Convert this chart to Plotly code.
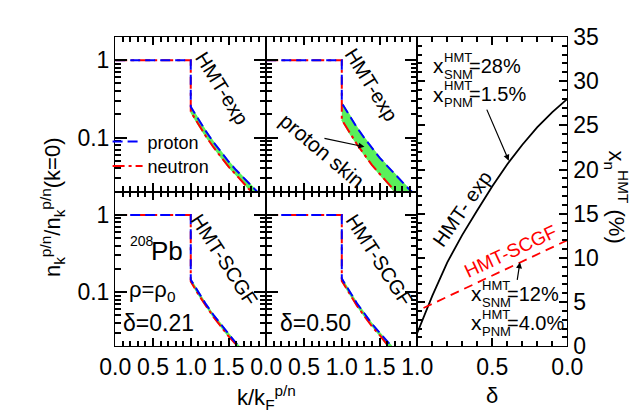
import plotly.graph_objects as go

W, H = 639, 415

# ---------------- data ----------------
k_flat = [0.0, 1.0]
n_flat = [1.0, 1.0]
k_tail = [1.0, 1.1, 1.2, 1.3, 1.4, 1.5, 1.6, 1.7, 1.8, 1.9, 2.0]

# HMT-exp, delta = 0.21
p_exp_a = [0.25, 0.171, 0.121, 0.0875, 0.065, 0.049, 0.038, 0.030, 0.024, 0.019, 0.0156]
n_exp_a = [0.215, 0.147, 0.104, 0.075, 0.056, 0.042, 0.033, 0.026, 0.020, 0.0165, 0.0134]
# HMT-exp, delta = 0.50
p_exp_b = [0.28, 0.191, 0.135, 0.098, 0.073, 0.055, 0.043, 0.034, 0.027, 0.021, 0.0175]
n_exp_b = [0.17, 0.116, 0.082, 0.060, 0.044, 0.034, 0.026, 0.020, 0.016, 0.013, 0.0106]
# HMT-SCGF, delta = 0.21
p_scgf_a = [0.145, 0.099, 0.070, 0.051, 0.038, 0.029, 0.022, 0.017, 0.014, 0.011, 0.009]
n_scgf_a = [0.138, 0.094, 0.067, 0.048, 0.036, 0.027, 0.021, 0.0165, 0.013, 0.0106, 0.0086]
# HMT-SCGF, delta = 0.50
p_scgf_b = [0.15, 0.102, 0.072, 0.053, 0.039, 0.030, 0.023, 0.018, 0.014, 0.0115, 0.0094]
n_scgf_b = [0.14, 0.096, 0.067, 0.049, 0.036, 0.028, 0.021, 0.017, 0.013, 0.011, 0.0088]

# right panel: x_n^HMT (%) vs delta
delta_exp = [0.0, 0.1, 0.2, 0.3, 0.4, 0.5, 0.6, 0.7, 0.8, 0.9, 1.0]
xn_exp = [28.0, 26.5, 24.8, 22.8, 20.6, 18.1, 15.4, 12.6, 9.5, 5.7, 1.5]
delta_scgf = [0.0, 1.0]
xn_scgf = [12.0, 4.0]

# ---------------- style ----------------
FONT = "Liberation Sans, Arial, sans-serif"
BLUE = "#0000FF"
RED = "#FF0000"
GREEN = "#5AF05A"
P_DASH = "10px,5px"
N_DASH = "12px,4px,3px,4px"

X0, X1, X2, X3 = 96 / W, 255 / W, 414 / W, 572 / W
YT, YM, YB = 1 - 17 / H, 1 - 182 / H, 1 - 347 / H

fig = go.Figure()

panels = [
    ("x", "y", p_exp_a, n_exp_a, True),
    ("x2", "y2", p_exp_b, n_exp_b, False),
    ("x3", "y3", p_scgf_a, n_scgf_a, False),
    ("x4", "y4", p_scgf_b, n_scgf_b, False),
]
for xa, ya, pv, nv, leg in panels:
    fig.add_trace(go.Scatter(
        x=k_tail + k_tail[::-1], y=pv + nv[::-1], fill="toself",
        fillcolor=GREEN, line=dict(color=GREEN, width=1.5),
        mode="lines", showlegend=False, xaxis=xa, yaxis=ya, hoverinfo="skip"))
    fig.add_trace(go.Scatter(
        x=k_flat + k_tail, y=n_flat + nv, mode="lines", name="neutron",
        line=dict(color=RED, width=2, dash=N_DASH),
        showlegend=leg, legend="legend2", xaxis=xa, yaxis=ya))
    fig.add_trace(go.Scatter(
        x=k_flat + k_tail, y=n_flat + pv, mode="lines", name="proton",
        line=dict(color=BLUE, width=2, dash=P_DASH),
        showlegend=leg, legend="legend", xaxis=xa, yaxis=ya))

fig.add_trace(go.Scatter(x=delta_exp, y=xn_exp, mode="lines",
                         line=dict(color="black", width=1.8),
                         showlegend=False, xaxis="x5", yaxis="y5"))
fig.add_trace(go.Scatter(x=delta_scgf, y=xn_scgf, mode="lines",
                         line=dict(color=RED, width=1.8, dash="9px,6px"),
                         showlegend=False, xaxis="x5", yaxis="y5"))

tickfont = dict(family=FONT, size=23, color="black")


def base(dom, anchor, **kw):
    d = dict(domain=dom, anchor=anchor, showline=True, linecolor="black",
             linewidth=1.4, mirror="allticks", ticks="inside", tickwidth=1.8,
             tickcolor="black", showgrid=False, zeroline=False,
             tickfont=tickfont)
    d.update(kw)
    return d


def minor(**kw):
    d = dict(ticks="inside", ticklen=5, tickwidth=1.5, tickcolor="black",
             showgrid=False)
    d.update(kw)
    return d


def kaxis(dom, anchor, labels):
    return base(dom, anchor, range=[0, 1.999], tickmode="linear", tick0=0,
                dtick=0.5, tickformat=".1f", ticklen=8,
                showticklabels=labels,
                minor=minor(tickmode="linear", tick0=0, dtick=0.1))


def naxis(dom, anchor, labels):
    return base(dom, anchor, type="log", range=[-1.69897, 0.30103],
                dtick=1, ticklen=12, showticklabels=labels,
                minor=minor(dtick="D1", ticklen=6))


leg_common = dict(xanchor="left", yanchor="middle", bgcolor="rgba(0,0,0,0)",
                  font=dict(size=18, family=FONT, color="black"),
                  borderwidth=0, itemwidth=30)

fig.update_layout(
    width=W, height=H, margin=dict(l=0, r=0, t=0, b=0),
    paper_bgcolor="white", plot_bgcolor="rgba(0,0,0,0)",
    font=dict(family=FONT, color="black"),
    xaxis=kaxis([X0, X1], "y", False),
    yaxis=naxis([YM, YT], "x", True),
    xaxis2=kaxis([X1, X2], "y2", False),
    yaxis2=naxis([YM, YT], "x2", False),
    xaxis3=kaxis([X0, X1], "y3", True),
    yaxis3=naxis([YB, YM], "x3", True),
    xaxis4=kaxis([X1, X2], "y4", True),
    yaxis4=naxis([YB, YM], "x4", False),
    xaxis5=base([X2, X3], "y5", range=[1, 0], tickmode="linear", tick0=0,
                dtick=0.5, tickformat=".1f", ticklen=8,
                minor=minor(tickmode="linear", tick0=0, dtick=0.1)),
    yaxis5=base([YB, YT], "x5", side="right", range=[0, 35],
                tickmode="linear", tick0=0, dtick=5, ticklen=8,
                minor=minor(tickmode="linear", tick0=0, dtick=1)),
    legend=dict(x=88 / W, y=1 - 129 / H, **leg_common),
    legend2=dict(x=88 / W, y=1 - 155 / H, **leg_common),
)


def P(x, y):
    return x / W, 1 - y / H


ann = []


def text(x, y, s, size=20, angle=0, color="black", xanchor="center", yanchor="middle"):
    px, py = P(x, y)
    ann.append(dict(x=px, y=py, xref="paper", yref="paper", text=s,
                    showarrow=False, textangle=angle, xanchor=xanchor,
                    yanchor=yanchor, font=dict(size=size, color=color, family=FONT)))


# panel labels
text(208, 72, "HMT-exp", 20, 58)
text(366, 68, "HMT-exp", 20, 58)
text(314, 138, "proton skin", 21, 40)
text(211, 255, "HMT-SCGF", 20, 57)
text(374, 255, "HMT-SCGF", 20, 57)
text(124, 235, "208", 14)
text(151, 245, "Pb", 26)
text(135, 288, "ρ=ρ<sub>0</sub>", 22)
text(142, 322, "δ=0.21", 23)
text(307, 322, "δ=0.50", 23)

# right panel labels
text(462, 200, "HMT- exp", 20, -55)
text(512, 246, "HMT-SCGF", 19, -25, RED)


def xlabel(x, y, sup, sub, rest):
    text(x, y, "x", 21, xanchor="left")
    text(x + 12, y - 9, sup, 13, xanchor="left")
    text(x + 12, y + 9, sub, 13, xanchor="left")
    text(x + 38, y, rest, 20, xanchor="left")


xlabel(428, 48, "HMT", "SNM", "=28%")
xlabel(428, 78, "HMT", "PNM", "=1.5%")
xlabel(468, 291, "HMT", "SNM", "=12%")
xlabel(468, 322, "HMT", "PNM", "=4.0%")

# axis titles
text(30, 198, "n<sub>k</sub><sup>p/n</sup>/n<sub>k</sub><sup>p/n</sup>(k=0)", 22, -90)
text(255, 402, "k/k<sub>F</sub><sup>p/n</sup>", 22)
text(493, 400, "δ", 22)
text(624, 188, "x<sub>n</sub><sup>HMT</sup> (%)", 22, 90)

# arrows
ann.append(dict(x=0.39, y=21.0, xref="x5", yref="y5", text=" ", showarrow=True,
                ax=-25, ay=-58, arrowhead=2, arrowsize=1, arrowwidth=1.2,
                arrowcolor="black"))
ann.append(dict(x=0.316, y=9.5, xref="x5", yref="y5", text=" ", showarrow=True,
                ax=-4, ay=26, arrowhead=2, arrowsize=1, arrowwidth=1.2,
                arrowcolor="black"))
ann.append(dict(x=1.3, y=-1.12, xref="x2", yref="y2", text=" ", showarrow=True,
                ax=-43, ay=-9, arrowhead=2, arrowsize=1, arrowwidth=1.2,
                arrowcolor="black"))

fig.update_layout(annotations=ann)
fig.write_html("out.html")
